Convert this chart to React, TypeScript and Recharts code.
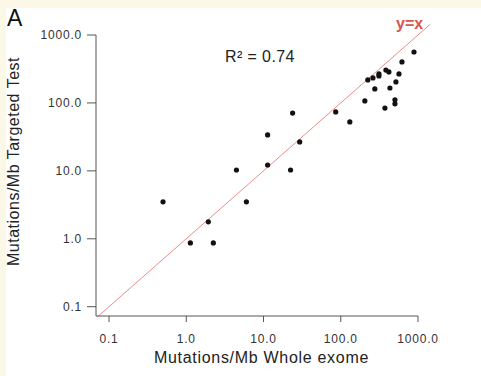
import React from 'react';
import { ScatterChart, Scatter, XAxis, YAxis, ReferenceLine } from 'recharts';

const wholeExome = [0.5, 1.13, 1.93, 2.24, 4.46, 6.0, 11.3, 11.3, 22.4, 23.8, 29.4, 86, 131, 205, 224, 261, 276, 312, 312, 373, 384, 420, 433, 503, 503, 518, 567, 620, 887];
const targetedTest = [3.5, 0.87, 1.78, 0.87, 10.3, 3.5, 33.8, 12.2, 10.3, 71, 26.7, 73.8, 52.5, 107, 218, 233, 161, 250, 267, 84, 305, 286, 166, 111, 97, 204, 267, 401, 562];
const tickValues = [0.1, 1, 10, 100, 1000];
const xDomain = [0.0678, 1000];
const yDomain = [0.073, 1000];
const identityLine = [0.0705, 1430];

const points = wholeExome.map((x, i) => ({ x, y: targetedTest[i] }));

const fmt = (v: number) => v.toFixed(1);

const Dot = (props: any) => <circle cx={props.cx} cy={props.cy} r={2.6} fill="#111" />;

const tickStyle = { fontSize: 12, fill: '#333', letterSpacing: 0.8, fontFamily: 'Liberation Sans, Arial, sans-serif' };

export default function App() {
  return (
    <div style={{ position: 'absolute', left: 0, top: 0, width: 481, height: 376, background: '#fff', fontFamily: 'Liberation Sans, Arial, sans-serif' }}>
      <div style={{ position: 'absolute', left: 0, top: 0, width: 481, height: 8, background: '#fcf8e8' }} />
      <div style={{ position: 'absolute', left: 0, top: 0, width: 6, height: 376, background: '#fcf8e8' }} />
      <div style={{ position: 'absolute', left: 0, top: 0 }}>
        <ScatterChart width={481} height={376} margin={{ top: 35, right: 63, left: 0, bottom: 0 }}>
          <XAxis
            type="number"
            dataKey="x"
            scale="log"
            domain={xDomain}
            allowDataOverflow
            ticks={tickValues}
            tickFormatter={fmt}
            height={60}
            tickSize={6}
            tickMargin={12}
            stroke="#555"
            tick={tickStyle}
          />
          <YAxis
            type="number"
            dataKey="y"
            scale="log"
            domain={yDomain}
            allowDataOverflow
            ticks={tickValues}
            tickFormatter={fmt}
            width={96}
            tickSize={9}
            tickMargin={5}
            stroke="#555"
            tick={tickStyle}
          />
          <ReferenceLine
            segment={[{ x: identityLine[0], y: identityLine[0] }, { x: identityLine[1], y: identityLine[1] }]}
            stroke="#ee8c8c"
            strokeWidth={1}
            ifOverflow="visible"
          />
          <Scatter data={points} shape={Dot} isAnimationActive={false} />
        </ScatterChart>
      </div>
      <svg width={481} height={376} style={{ position: 'absolute', left: 0, top: 0, pointerEvents: 'none' }}>
        <text x={7} y={26} fontSize={23} fill="#111">A</text>
        <text x={225} y={62} fontSize={16} fill="#222" letterSpacing={0.4}>R² = 0.74</text>
        <text x={396} y={29} fontSize={16} fontWeight="bold" fill="#d9534f">y=x</text>
        <text x={261.5} y={363} fontSize={16} fill="#222" textAnchor="middle" letterSpacing={0.7}>Mutations/Mb Whole exome</text>
        <text x={19} y={161.5} fontSize={16} fill="#222" textAnchor="middle" letterSpacing={0.5} transform="rotate(-90 19 161.5)">Mutations/Mb Targeted Test</text>
      </svg>
    </div>
  );
}
